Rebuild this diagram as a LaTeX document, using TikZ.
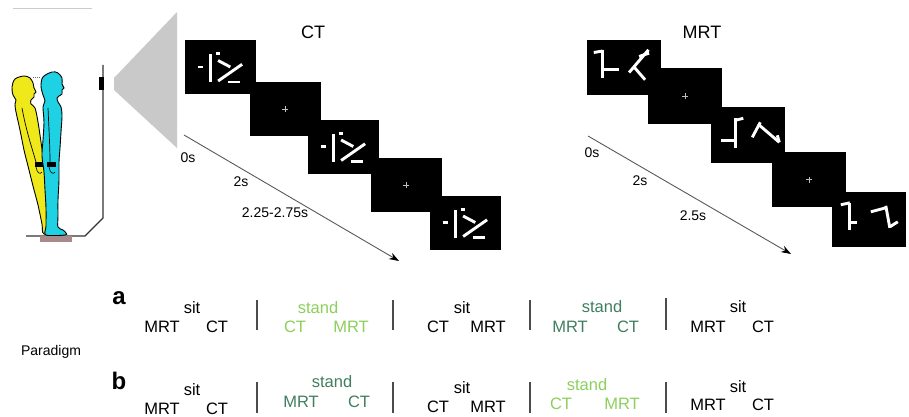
\documentclass[tikz,border=0pt]{standalone}
\usepackage{fontspec}
\setmainfont{Liberation Sans}
\usetikzlibrary{arrows.meta}
\definecolor{lgreen}{HTML}{8CCF5C}
\definecolor{dgreen}{HTML}{3F7E5E}
\definecolor{bodyyellow}{HTML}{EFE81A}
\definecolor{bodycyan}{HTML}{1ED2E4}
\definecolor{projgray}{HTML}{C9C9C9}
\definecolor{plate}{HTML}{A88A8A}

\begin{document}
\begin{tikzpicture}[x=1pt,y=-1pt,
  screen/.style={fill=black, draw=none, minimum width=71pt, minimum height=54pt, inner sep=0pt},
  mscreen/.style={screen, minimum width=74pt, minimum height=55pt},
  stim/.style={draw=white, line width=2.9pt},
  fix/.style={draw=white!75!black, line width=0.6pt},
  title/.style={font=\fontsize{18}{20}\selectfont, inner sep=0pt},
  tlabel/.style={font=\fontsize{14}{16}\selectfont, inner sep=0pt},
  word/.style={font=\fontsize{16.5}{18}\selectfont, inner sep=0pt},
  panel/.style={font=\fontsize{24}{26}\selectfont\bfseries, inner sep=0pt},
  sep/.style={draw=black!70, line width=1.2pt},
  timearrow/.style={draw=black!65, line width=0.9pt, -{Stealth[length=10pt,width=7pt,black]}},
  outline/.style={draw=black, line width=0.9pt}
]
\useasboundingbox (0,0) rectangle (909,417);

% CT stimulus, drawn relative to a screen's top-left corner
\newcommand{\ctshape}{%
  \draw[stim] (12.7,26.7) -- (18.3,26.7);
  \draw[stim] (26,14) -- (26,42);
  \draw[stim] (30.7,13.5) -- (35.5,13.5);
  \draw[stim] (33.3,20.2) -- (45.5,26.7);
  \draw[stim] (33.3,40.7) -- (57.3,24);
  \draw[stim] (42.7,41.7) -- (55.5,41.7);}

% ---------- participant, wall and projection ----------
\draw[black!20, line width=0.8pt] (13,8) -- (92,8);

\fill[projgray] (114,78) -- (177,12) -- (177,148) -- (114,90) -- cycle;

\coordinate (wallTop) at (103,65);
\coordinate (wallFoot) at (103,218);
\coordinate (floorKnee) at (85,236);
\coordinate (floorEnd) at (26,236);
\draw[black!80, line width=1.2pt] (wallTop) -- (wallFoot) -- (floorKnee) -- (floorEnd);
\fill[black] (99,77) rectangle (104,90);

% yellow figure (leaning)
\draw[outline, fill=bodyyellow] plot[smooth cycle, tension=0.55] coordinates {
  (24,76) (30,78) (33,83) (34,88) (36,92) (34,94) (34,97) (31,100) (31,104)
  (35,108) (38,122) (41,142) (44,162) (48,182) (52,202) (55,220) (57,231)
  (59,234) (44,234) (42,224) (38,205) (33,186) (28,166) (24,150) (20,130)
  (16,112) (15,104) (16,100) (13,95) (12,87) (15,79)};
\draw[black, line width=0.7pt] (22,108) .. controls (26,130) and (32,148) .. (36,162);
\fill[black] (34.5,161.5) rectangle (43,167);
\draw[black, line width=0.6pt] (36,167) .. controls (37,173) and (40,175) .. (42,172);

% cyan figure (upright)
\draw[outline, fill=bodycyan] plot[smooth cycle, tension=0.55] coordinates {
  (52,72) (58,73) (62,78) (62,84) (64,88) (62,90) (62,94) (59,96) (57,98)
  (58,102) (61,107) (62,116) (61,132) (60,148) (59,162) (59,180) (58,200)
  (58,216) (58,227) (63,230) (66,233) (65,235) (46,235) (46,226) (46,208)
  (45,190) (44,172) (42,156) (43,140) (44,122) (43,107) (45,101) (43,95)
  (41,86) (43,77)};
\draw[black, line width=0.7pt] (48,108) .. controls (49,130) and (50,148) .. (50,162);
\fill[black] (47,161.5) rectangle (56,167);
\draw[black, line width=0.6pt] (49,167) .. controls (50,173) and (53,175) .. (55,172);
\draw[black!60, dash pattern=on 1pt off 1pt, line width=0.8pt] (33,77) -- (41,77);

\fill[plate] (40,236) rectangle (72,242);

% ---------- CT sequence ----------
\node[title] (ctTitle) at (313,32) {CT};
\node[screen] (ct1) at (220.5,67.5) {};
\node[screen] (ct2) at (285,109) {};
\node[screen] (ct3) at (343.5,147) {};
\node[screen] (ct4) at (406,185) {};
\node[screen] (ct5) at (465.5,223) {};
\begin{scope}[shift={(ct1.north west)}]\ctshape\end{scope}
\begin{scope}[shift={(ct3.north west)}]\ctshape\end{scope}
\begin{scope}[shift={(ct5.north west)}]\ctshape\end{scope}
\draw[fix] ([xshift=-3pt]ct2.center) -- ([xshift=3pt]ct2.center);
\draw[fix] ([yshift=-3pt]ct2.center) -- ([yshift=3pt]ct2.center);
\draw[fix] ([xshift=-3pt]ct4.center) -- ([xshift=3pt]ct4.center);
\draw[fix] ([yshift=-3pt]ct4.center) -- ([yshift=3pt]ct4.center);

\coordinate (ctStart) at (184,135);
\coordinate (ctEnd) at (399,261);
\draw[timearrow] (ctStart) -- (ctEnd);
\node[tlabel] (ct0s) at (188,158) {0s};
\node[tlabel] (ct2s) at (241,182) {2s};
\node[tlabel] (ctJit) at (275,213) {2.25-2.75s};

% ---------- MRT sequence ----------
\node[title] (mrtTitle) at (702,32) {MRT};
\node[mscreen] (m1) at (624,67.5) {};
\node[mscreen] (m2) at (685,96) {};
\node[mscreen] (m3) at (747.5,135) {};
\node[mscreen] (m4) at (809,179.5) {};
\node[mscreen] (m5) at (869,219.5) {};
\begin{scope}[shift={(m1.north west)}]
  \draw[stim] (7,12.7) -- (15.7,11.2);
  \draw[stim] (15.7,10) -- (15.7,38.3);
  \draw[stim] (15.7,30) -- (32.3,30);
  \draw[stim] (61.7,10) -- (42.3,32.7);
  \draw[stim] (47.3,27.3) -- (58.3,40);
  \draw[stim] (52.3,16.7) -- (62.3,13.3);
\end{scope}
\begin{scope}[shift={(m3.north west)}]
  \draw[stim] (25,11) -- (25,41);
  \draw[stim] (11,33) -- (25,33);
  \draw[stim] (25,13) -- (33,11);
  \draw[stim] (42,30) -- (50,15);
  \draw[stim] (48,17) -- (69,35);
  \draw[stim] (69,35) -- (67,28);
\end{scope}
\begin{scope}[shift={(m5.north west)}]
  \draw[stim] (9,13) -- (18,11);
  \draw[stim] (18,11) -- (18,38);
  \draw[stim] (18,31) -- (25,31);
  \draw[stim] (39,20) -- (54,16);
  \draw[stim] (54,14) -- (58,36);
  \draw[stim] (58,35) -- (66,30);
\end{scope}
\draw[fix] ([xshift=-3pt]m2.center) -- ([xshift=3pt]m2.center);
\draw[fix] ([yshift=-3pt]m2.center) -- ([yshift=3pt]m2.center);
\draw[fix] ([xshift=-3pt]m4.center) -- ([xshift=3pt]m4.center);
\draw[fix] ([yshift=-3pt]m4.center) -- ([yshift=3pt]m4.center);

\coordinate (mStart) at (588,136);
\coordinate (mEnd) at (791,254);
\draw[timearrow] (mStart) -- (mEnd);
\node[tlabel] (m0s) at (592,153) {0s};
\node[tlabel] (m2s) at (640,181) {2s};
\node[tlabel] (m25s) at (693,216) {2.5s};

% ---------- paradigm orders ----------
\node[font=\fontsize{14}{16}\selectfont, inner sep=0pt] (paradigm) at (51,352) {Paradigm};
\node[panel] (pa) at (119,298) {a};
\node[panel] (pb) at (119,381) {b};

% order a
\node[word] (a1top) at (192,308) {sit};
\node[word] (a1l) at (162,327) {MRT};
\node[word] (a1r) at (217,327) {CT};
\draw[sep] (257,300) -- (257,330);
\node[word, text=lgreen] (a2top) at (318,308) {stand};
\node[word, text=lgreen] (a2l) at (295,327) {CT};
\node[word, text=lgreen] (a2r) at (351,327) {MRT};
\draw[sep] (393,300) -- (393,330);
\node[word] (a3top) at (462,308) {sit};
\node[word] (a3l) at (438,327) {CT};
\node[word] (a3r) at (488,327) {MRT};
\draw[sep] (530,300) -- (530,330);
\node[word, text=dgreen] (a4top) at (602,307) {stand};
\node[word, text=dgreen] (a4l) at (570,327) {MRT};
\node[word, text=dgreen] (a4r) at (628,327) {CT};
\draw[sep] (666,298) -- (666,330);
\node[word] (a5top) at (738,307) {sit};
\node[word] (a5l) at (708,327) {MRT};
\node[word] (a5r) at (763,327) {CT};

% order b
\node[word] (b1top) at (192,390) {sit};
\node[word] (b1l) at (162,409) {MRT};
\node[word] (b1r) at (217,409) {CT};
\draw[sep] (257,382) -- (257,413);
\node[word, text=dgreen] (b2top) at (332,382) {stand};
\node[word, text=dgreen] (b2l) at (301,402) {MRT};
\node[word, text=dgreen] (b2r) at (359,402) {CT};
\draw[sep] (393,382) -- (393,413);
\node[word] (b3top) at (462,388) {sit};
\node[word] (b3l) at (438,407) {CT};
\node[word] (b3r) at (488,407) {MRT};
\draw[sep] (530,382) -- (530,413);
\node[word, text=lgreen] (b4top) at (587,385) {stand};
\node[word, text=lgreen] (b4l) at (561,404) {CT};
\node[word, text=lgreen] (b4r) at (622,404) {MRT};
\draw[sep] (666,382) -- (666,413);
\node[word] (b5top) at (738,387) {sit};
\node[word] (b5l) at (708,405) {MRT};
\node[word] (b5r) at (763,405) {CT};
\end{tikzpicture}
\end{document}
